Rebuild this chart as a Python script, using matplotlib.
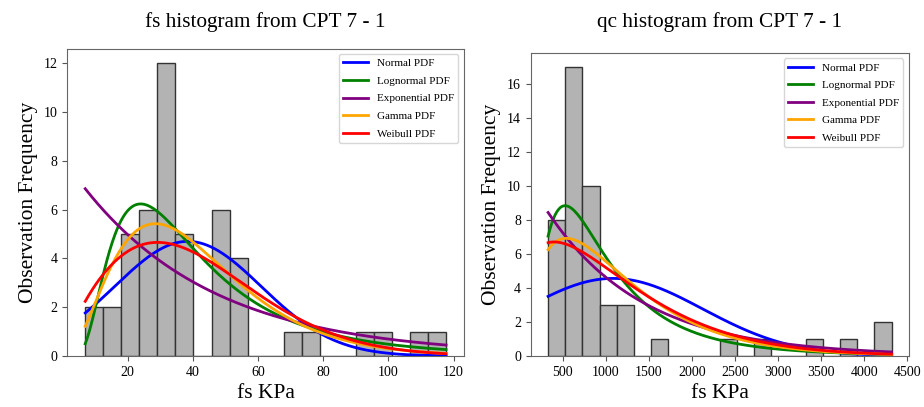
import math
import numpy as np
import matplotlib
matplotlib.use("Agg")
import matplotlib.pyplot as plt

plt.rcParams['font.family'] = ['Liberation Serif', 'DejaVu Serif']

# ---- data ----
fs_edges_range = [7.0, 117.7]
fs_counts = [2, 2, 5, 6, 12, 5, 0, 6, 4, 0, 0, 1, 1, 0, 0, 1, 1, 0, 1, 1]
qc_edges_range = [329.0, 4317.0]
qc_counts = [8, 17, 10, 3, 3, 0, 1, 0, 0, 0, 1, 0, 1, 0, 0, 1, 0, 1, 0, 2]

# fitted distribution parameters (scaled to frequency)
fs_normal = dict(mu=38.5, sigma=22.5, scale=265)
fs_lognorm = dict(s=0.66, loc=2.0, median=34.0, scale=282)
fs_expon = dict(loc=9.0, beta=40.6, scale=265)
fs_gamma = dict(a=3.3, loc=0.0, theta=12.4, scale=265)
fs_weib = dict(k=1.8, loc=0.0, lam=45.8, scale=265)

qc_normal = dict(mu=1084, sigma=1040, scale=11913)
qc_lognorm = dict(s=0.70, loc=0.0, median=860, scale=10455)
qc_expon = dict(loc=320, beta=1117, scale=9516)
qc_gamma = dict(a=1.8, loc=42, theta=620, scale=10645)
qc_weib = dict(k=1.3, loc=0.0, lam=1235, scale=11275)

titles = ["fs histogram from CPT 7 - 1", "qc histogram from CPT 7 - 1"]
xlabel = "fs KPa"
ylabel = "Observation Frequency"
labels = ["Normal PDF", "Lognormal PDF", "Exponential PDF", "Gamma PDF", "Weibull PDF"]
colors = ["blue", "green", "purple", "orange", "red"]


def normal_pdf(x, p):
    return p['scale'] * np.exp(-(x - p['mu'])**2 / (2 * p['sigma']**2)) / (p['sigma'] * math.sqrt(2 * math.pi))


def lognorm_pdf(x, p):
    xp = np.clip(x - p['loc'], 1e-9, None)
    s = p['s']
    return p['scale'] * np.exp(-(np.log(xp / p['median']))**2 / (2 * s * s)) / (xp * s * math.sqrt(2 * math.pi))


def expon_pdf(x, p):
    return p['scale'] / p['beta'] * np.exp(-(x - p['loc']) / p['beta'])


def gamma_pdf(x, p):
    xp = np.clip(x - p['loc'], 1e-9, None)
    a, th = p['a'], p['theta']
    return p['scale'] * xp**(a - 1) * np.exp(-xp / th) / (math.gamma(a) * th**a)


def weib_pdf(x, p):
    xp = np.clip(x - p['loc'], 1e-9, None)
    k, lam = p['k'], p['lam']
    return p['scale'] * k / lam * (xp / lam)**(k - 1) * np.exp(-(xp / lam)**k)


fig = plt.figure(figsize=(9.24, 4.07), dpi=100)
ax1 = fig.add_axes([67.3 / 924, (407 - 356) / 407, (464 - 67.3) / 924, (356 - 48.6) / 407])
ax2 = fig.add_axes([530.7 / 924, (407 - 356) / 407, (909 - 530.7) / 924, (356 - 52.9) / 407])

sets = [
    (ax1, fs_edges_range, fs_counts, [fs_normal, fs_lognorm, fs_expon, fs_gamma, fs_weib], 15.5),
    (ax2, qc_edges_range, qc_counts, [qc_normal, qc_lognorm, qc_expon, qc_gamma, qc_weib], 18.5),
]
funcs = [normal_pdf, lognorm_pdf, expon_pdf, gamma_pdf, weib_pdf]

for i, (ax, rng, counts, params, tpad) in enumerate(sets):
    edges = np.linspace(rng[0], rng[1], len(counts) + 1)
    ax.bar(edges[:-1], counts, width=np.diff(edges), align='edge',
           color='#b3b3b3', edgecolor='#333333', linewidth=1.0)
    x = np.linspace(rng[0], rng[1], 400)
    for f, p, lab, c in zip(funcs, params, labels, colors):
        ax.plot(x, f(x, p), color=c, lw=2, label=lab)
    ax.set_title(titles[i], fontsize=15.3, pad=tpad)
    ax.set_xlabel(xlabel, fontsize=15.5)
    ax.set_ylabel(ylabel, fontsize=15.5)
    ax.tick_params(labelsize=10, color='#555555')
    for sp in ax.spines.values():
        sp.set_color('#666666')
    leg = ax.legend(loc='upper right', fontsize=8, handlelength=2.2, labelspacing=0.7)
    leg.get_frame().set_edgecolor('#cccccc')

ax1.set_xlim(1.5, 123.2)
ax1.set_ylim(0, 12.6)
ax1.set_yticks([0, 2, 4, 6, 8, 10, 12])
ax2.set_xlim(127, 4520)
ax2.set_ylim(0, 17.85)
ax2.set_yticks([0, 2, 4, 6, 8, 10, 12, 14, 16])
ax2.set_xticks([500, 1000, 1500, 2000, 2500, 3000, 3500, 4000, 4500])

fig.savefig("out.png", dpi=100)
